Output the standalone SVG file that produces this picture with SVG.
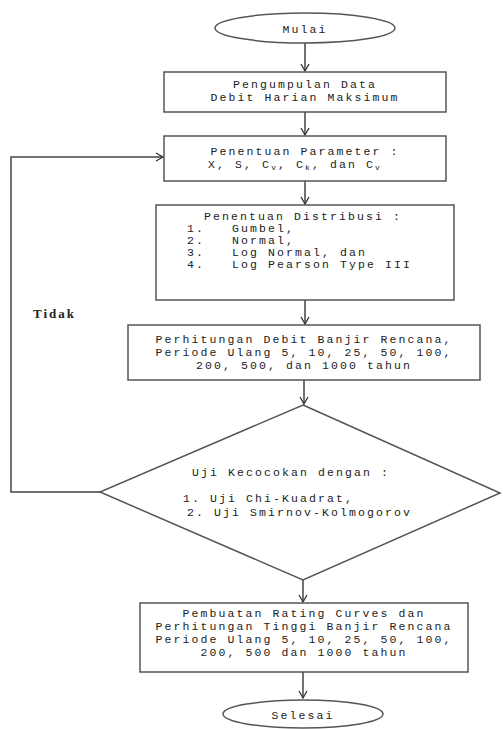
<svg xmlns="http://www.w3.org/2000/svg" width="503" height="729" viewBox="0 0 503 729">
<style>
.s{fill:#fff;stroke:#555;stroke-width:1.5}
.c{fill:none;stroke:#444;stroke-width:1.5}
text{font-family:"Liberation Mono","Courier New",monospace;font-size:11.5px;fill:#222;letter-spacing:2.1px}
.m{text-anchor:middle}
.b{font-family:"Liberation Serif","Times New Roman",serif;font-weight:bold;font-size:13px;letter-spacing:2px}
</style>
<defs>
<marker id="ah" markerWidth="10" markerHeight="10" refX="8" refY="5" orient="auto" markerUnits="userSpaceOnUse">
<polyline points="1,1 8,5 1,9" fill="none" stroke="#333" stroke-width="1.3"/>
</marker>
</defs>
<g id="connectors">
<line class="c" x1="305" y1="43" x2="305" y2="71" marker-end="url(#ah)"/>
<line class="c" x1="305" y1="112" x2="305" y2="135" marker-end="url(#ah)"/>
<line class="c" x1="305" y1="181" x2="305" y2="204" marker-end="url(#ah)"/>
<line class="c" x1="305" y1="300" x2="305" y2="324" marker-end="url(#ah)"/>
<line class="c" x1="304" y1="380" x2="304" y2="404" marker-end="url(#ah)"/>
<line class="c" x1="303" y1="580" x2="303" y2="602" marker-end="url(#ah)"/>
<line class="c" x1="303" y1="672" x2="303" y2="698" marker-end="url(#ah)"/>
<polyline class="c" points="100,492 11,492 11,157 163,157" marker-end="url(#ah)"/>
<text class="b" x="33" y="318">Tidak</text>
</g>
<g id="mulai">
<ellipse class="s" cx="305" cy="28" rx="90" ry="15"/>
<text class="m" x="305" y="33">Mulai</text>
</g>
<g id="pengumpulan">
<rect class="s" x="164" y="72" width="282" height="40"/>
<text class="m" x="305" y="88">Pengumpulan Data</text>
<text class="m" x="305" y="101">Debit Harian Maksimum</text>
</g>
<g id="parameter">
<rect class="s" x="164" y="136" width="282" height="45"/>
<text class="m" x="305" y="155">Penentuan Parameter :</text>
<text class="m" x="295" y="168">X, S, C<tspan font-size="8" dy="2">v</tspan><tspan dy="-2">, C</tspan><tspan font-size="8" dy="2">k</tspan><tspan dy="-2">, dan C</tspan><tspan font-size="8" dy="2">v</tspan></text>
</g>
<g id="distribusi">
<rect class="s" x="156" y="205" width="298" height="95"/>
<text class="m" x="303" y="220">Penentuan Distribusi :</text>
<text x="187" y="232">1.</text><text x="232" y="232">Gumbel,</text>
<text x="187" y="244">2.</text><text x="232" y="244">Normal,</text>
<text x="187" y="256">3.</text><text x="232" y="256">Log Normal, dan</text>
<text x="187" y="268">4.</text><text x="232" y="268">Log Pearson Type III</text>
</g>
<g id="perhitungan">
<rect class="s" x="128" y="325" width="352" height="55"/>
<text class="m" x="304" y="343">Perhitungan Debit Banjir Rencana,</text>
<text class="m" x="304" y="356">Periode Ulang 5, 10, 25, 50, 100,</text>
<text class="m" x="304" y="369">200, 500, dan 1000 tahun</text>
</g>
<g id="uji">
<polygon class="s" points="303,405 500,493 303,580 100,492"/>
<text x="192" y="476">Uji Kecocokan dengan :</text>
<text x="183" y="502">1.  Uji Chi-Kuadrat,</text>
<text x="187" y="516">2.  Uji Smirnov-Kolmogorov</text>
</g>
<g id="pembuatan">
<rect class="s" x="140" y="603" width="328" height="69"/>
<text class="m" x="304" y="617">Pembuatan Rating Curves dan</text>
<text class="m" x="304" y="630">Perhitungan Tinggi Banjir Rencana</text>
<text class="m" x="304" y="643">Periode Ulang 5, 10, 25, 50, 100,</text>
<text class="m" x="304" y="656">200, 500 dan 1000 tahun</text>
</g>
<g id="selesai">
<ellipse class="s" cx="303" cy="714" rx="80" ry="14"/>
<text class="m" x="303" y="719">Selesai</text>
</g>
</svg>
